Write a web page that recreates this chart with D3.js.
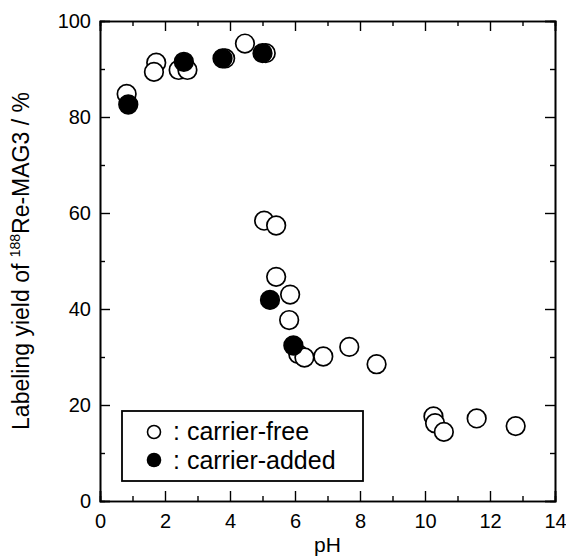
<!DOCTYPE html>
<html>
<head>
<meta charset="utf-8">
<script src="https://cdn.jsdelivr.net/npm/d3@7"></script>
<style>
  body { margin: 0; background: #fff; }
  svg { font-family: "Liberation Sans", Arial, sans-serif; }
</style>
</head>
<body>
<svg id="chart" width="566" height="557"></svg>
<script>
// carrier-free (open circles)
const freePH    = [0.82, 1.73, 1.66, 2.42, 2.69, 3.85, 4.46, 5.10, 5.05, 5.42, 5.42, 5.85, 5.82, 6.10, 6.29, 6.87, 7.67, 8.51, 10.26, 10.31, 10.58, 11.59, 12.79]
const freeYield = [84.8, 91.3, 89.4, 89.8, 89.8, 92.2, 95.3, 93.3, 58.4, 57.4, 46.7, 43.0, 37.7, 30.6, 29.9, 30.1, 32.1, 28.5, 17.6, 16.2, 14.4, 17.2, 15.6]
// carrier-added (filled circles)
const addedPH    = [0.87, 2.58, 3.77, 5.00, 5.23, 5.95]
const addedYield = [82.6, 91.5, 92.2, 93.3, 41.9, 32.4]

const xTicks = [0, 2, 4, 6, 8, 10, 12, 14]
const xMinor = [1, 3, 5, 7, 9, 11, 13]
const yTicks = [0, 20, 40, 60, 80, 100]
const yMinor = [10, 30, 50, 70, 90]

const M = {left: 100, right: 555, top: 21, bottom: 501}
const R = 9.3

var svg = d3.select("#chart")
var x = d3.scaleLinear().domain([0, 14]).range([M.left, M.right])
var y = d3.scaleLinear().domain([0, 100]).range([M.bottom, M.top])

function styleAxis(g) {
	g.selectAll("path").attr("stroke", "#000").attr("stroke-width", 1.6)
	g.selectAll("line").attr("stroke", "#000").attr("stroke-width", 1.4)
	g.selectAll("text").attr("font-size", 20).attr("fill", "#000")
	g.attr("font-family", null)
}

/*** Axes, ticks point inward on every side ***/
svg.append("g").attr("transform", "translate(0," + M.bottom + ")")
	.call(d3.axisBottom(x).tickValues(xTicks).tickSize(-10).tickPadding(13).tickFormat(d3.format("d")))
	.call(styleAxis)
svg.append("g").attr("transform", "translate(0," + M.bottom + ")")
	.call(d3.axisBottom(x).tickValues(xMinor).tickSize(-5).tickFormat(""))
	.call(styleAxis)
svg.append("g").attr("transform", "translate(0," + M.top + ")")
	.call(d3.axisTop(x).tickValues(xTicks).tickSize(-10).tickFormat(""))
	.call(styleAxis)
svg.append("g").attr("transform", "translate(0," + M.top + ")")
	.call(d3.axisTop(x).tickValues(xMinor).tickSize(-5).tickFormat(""))
	.call(styleAxis)

svg.append("g").attr("transform", "translate(" + M.left + ",0)")
	.call(d3.axisLeft(y).tickValues(yTicks).tickSize(-10).tickPadding(9))
	.call(styleAxis)
svg.append("g").attr("transform", "translate(" + M.left + ",0)")
	.call(d3.axisLeft(y).tickValues(yMinor).tickSize(-5).tickFormat(""))
	.call(styleAxis)
svg.append("g").attr("transform", "translate(" + M.right + ",0)")
	.call(d3.axisRight(y).tickValues(yTicks).tickSize(-10).tickFormat(""))
	.call(styleAxis)
svg.append("g").attr("transform", "translate(" + M.right + ",0)")
	.call(d3.axisRight(y).tickValues(yMinor).tickSize(-5).tickFormat(""))
	.call(styleAxis)

/*** Titles ***/
svg.append("text")
	.attr("x", (M.left + M.right) / 2).attr("y", 552)
	.attr("text-anchor", "middle").attr("font-size", 21)
	.text("pH")

var yt = svg.append("text")
	.attr("transform", "translate(29," + ((M.top + M.bottom) / 2) + ") rotate(-90)")
	.attr("text-anchor", "middle").attr("font-size", 23)
yt.append("tspan").text("Labeling yield of ")
yt.append("tspan").attr("font-size", 14).attr("dy", -9).text("188")
yt.append("tspan").attr("dy", 9).text("Re-MAG3 / %")

/*** Points ***/
var freeData = freePH.map((p, i) => ({ph: p, v: freeYield[i]}))
var addedData = addedPH.map((p, i) => ({ph: p, v: addedYield[i]}))

svg.append("g").selectAll("circle").data(freeData).enter()
	.append("circle")
	.attr("cx", d => x(d.ph)).attr("cy", d => y(d.v)).attr("r", R)
	.attr("fill", "#fff").attr("stroke", "#000").attr("stroke-width", 1.7)

svg.append("g").selectAll("circle").data(addedData).enter()
	.append("circle")
	.attr("cx", d => x(d.ph)).attr("cy", d => y(d.v)).attr("r", R)
	.attr("fill", "#000").attr("stroke", "#000").attr("stroke-width", 1.7)

/*** Legend ***/
var lg = svg.append("g")
lg.append("rect").attr("x", 122).attr("y", 411).attr("width", 241).attr("height", 70)
	.attr("fill", "#fff").attr("stroke", "#000").attr("stroke-width", 1.8)
lg.append("circle").attr("cx", 154).attr("cy", 432).attr("r", 6.5)
	.attr("fill", "#fff").attr("stroke", "#000").attr("stroke-width", 1.6)
lg.append("circle").attr("cx", 154).attr("cy", 460).attr("r", 7.3)
	.attr("fill", "#000")
lg.append("text").attr("x", 173).attr("y", 440).attr("font-size", 25).text(": carrier-free")
lg.append("text").attr("x", 173).attr("y", 469).attr("font-size", 25).text(": carrier-added")
</script>
</body>
</html>
